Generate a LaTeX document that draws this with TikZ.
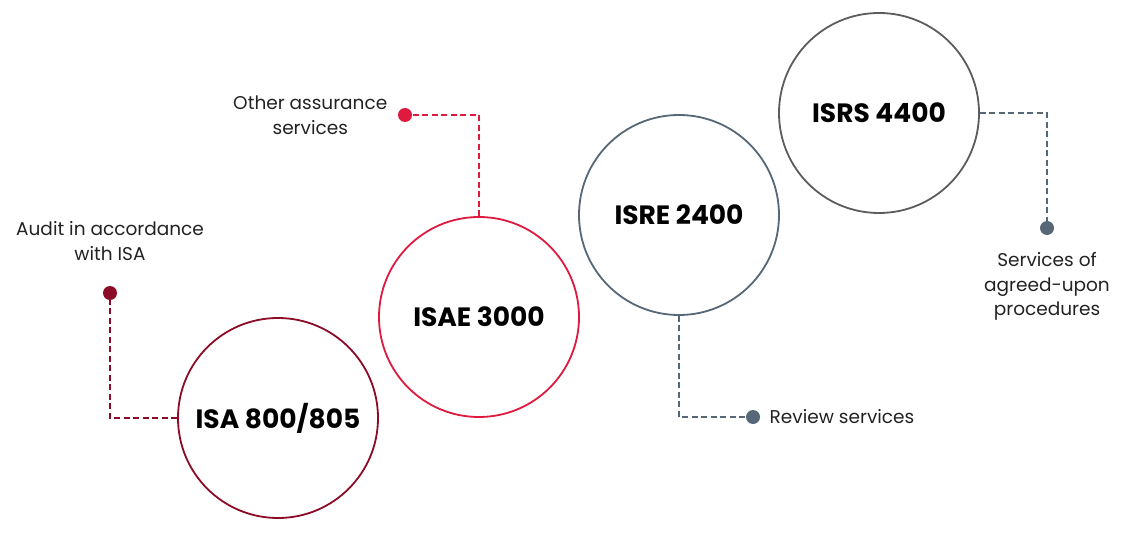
\documentclass[tikz,border=0pt]{standalone}
\usepackage{fontspec}
\setmainfont{Poppins}
\usetikzlibrary{calc,positioning}
\definecolor{ISADarkRed}{HTML}{8C0B27}
\definecolor{ISAECrimson}{HTML}{DE1A3E}
\definecolor{ISRESlate}{HTML}{566778}
\definecolor{ISRSGray}{HTML}{5C5C5C}
\definecolor{NoteText}{HTML}{222222}

\begin{document}
\begin{tikzpicture}[x=1pt,y=-1pt,
  stdcircle/.style={circle, draw, line width=1.8pt, minimum size=200pt, inner sep=0pt,
    font=\fontsize{26.5}{30}\selectfont\bfseries, text=black},
  link/.style={line width=1.7pt, dash pattern=on 6pt off 3.5pt},
  enddot/.style={circle, fill, inner sep=0pt, minimum size=14pt},
  note/.style={font=\fontsize{18.5}{24.5}\selectfont, align=center, text=NoteText}]
  \useasboundingbox (0,0) rectangle (1131,537);
  % standards
  \node[stdcircle, draw=ISADarkRed] (isa) at (278,418) {ISA 800/805};
  \node[stdcircle, draw=ISAECrimson] (isae) at (479,317) {ISAE 3000};
  \node[stdcircle, draw=ISRESlate] (isre) at (679,215) {ISRE 2400};
  \node[stdcircle, draw=ISRSGray] (isrs) at (879,113) {ISRS 4400};
  % end points
  \node[enddot, ISADarkRed] (isadot) at (110,293) {};
  \node[enddot, ISAECrimson] (isaedot) at (405,115) {};
  \node[enddot, ISRESlate] (isredot) at (753,417) {};
  \node[enddot, ISRESlate] (isrsdot) at (1047,228) {};
  % connectors
  \draw[link, ISADarkRed] (isa.west) -| (isadot);
  \draw[link, ISAECrimson] (isae.north) |- (isaedot);
  \draw[link, ISRESlate] (isre.south) |- (isredot);
  \draw[link, ISRESlate] (isrs.east) -| (isrsdot);
  % notes
  \node[note, above=22pt of isadot] (isanote) {Audit in accordance\\with ISA};
  \node[note, left=7pt of isaedot] (isaenote) {Other assurance\\services};
  \node[note, right=6pt of isredot] (isrenote) {Review services};
  \node[note, below=14pt of isrsdot] (isrsnote) {Services of\\agreed-upon\\procedures};
\end{tikzpicture}
\end{document}
